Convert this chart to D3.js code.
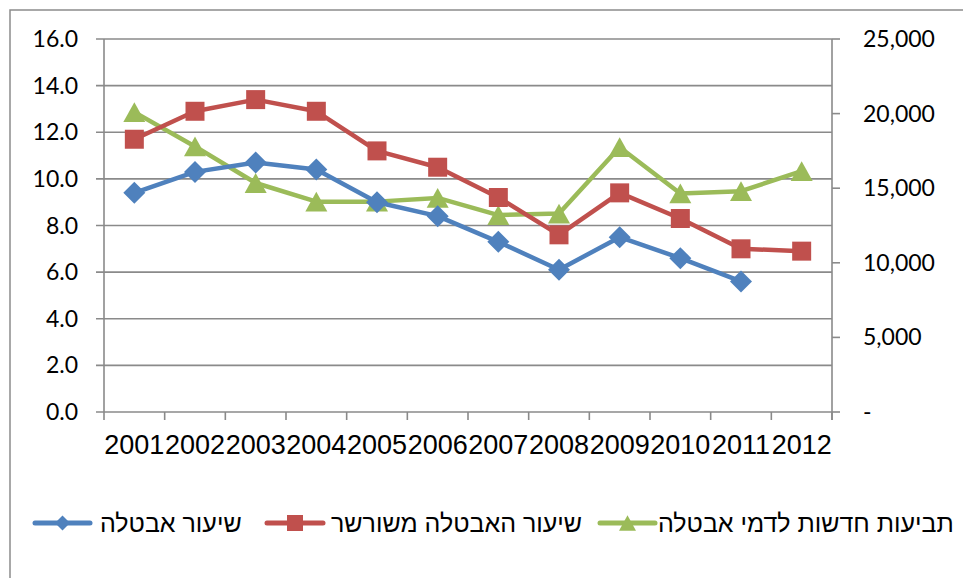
<!DOCTYPE html>
<html><head><meta charset="utf-8">
<script src="https://cdn.jsdelivr.net/npm/d3@7"></script>
<style>body{margin:0;background:#fff}svg{display:block}</style>
</head><body>
<svg id="c" width="963" height="578"></svg>
<script>
const years = ["2001","2002","2003","2004","2005","2006","2007","2008","2009","2010","2011","2012"];
const unemploymentRate = [9.4,10.3,10.7,10.4,9.0,8.4,7.3,6.1,7.5,6.6,5.6,null];
const rootedUnemployment = [11.7,12.9,13.4,12.9,11.2,10.5,9.2,7.6,9.4,8.3,7.0,6.9];
const newClaims = [20100,17800,15350,14100,14100,14350,13200,13300,17750,14650,14800,16150];
const leftTicks = [0,2,4,6,8,10,12,14,16];
const rightTicks = [0,5000,10000,15000,20000,25000];
const seriesNames = ["שיעור אבטלה","שיעור האבטלה משורשר","תביעות חדשות לדמי אבטלה"];
const colors = ["#4F81BD","#C0504D","#9BBB59"];

const svg = d3.select("#c");
const L=104, R=832, T=39, B=412;
const gridCol="#8a8a8a";

// frame
svg.append("path").attr("d","M10,578V10H963").attr("fill","none").attr("stroke","#8c8c8c").attr("stroke-width",1.5);

const x = d3.scaleBand().domain(years).range([L,R]).padding(0);
const yL = d3.scaleLinear().domain([0,16]).range([B,T]);
const yR = d3.scaleLinear().domain([0,25000]).range([B,T]);

// gridlines
svg.append("g").selectAll("line").data(leftTicks).join("line")
  .attr("x1",L-8).attr("x2",R).attr("y1",d=>yL(d)).attr("y2",d=>yL(d))
  .attr("stroke",gridCol).attr("stroke-width",1.6);
svg.append("line").attr("x1",L).attr("x2",L).attr("y1",T).attr("y2",B).attr("stroke",gridCol).attr("stroke-width",1.6);
svg.append("line").attr("x1",R).attr("x2",R).attr("y1",T).attr("y2",B+8).attr("stroke",gridCol).attr("stroke-width",1.6);
svg.append("g").selectAll("line").data(rightTicks).join("line")
  .attr("x1",R).attr("x2",R+8).attr("y1",d=>yR(d)).attr("y2",d=>yR(d))
  .attr("stroke",gridCol).attr("stroke-width",1.6);
const bounds = years.map(d=>x(d)).concat([R]);
svg.append("g").selectAll("line").data(bounds).join("line")
  .attr("x1",d=>d).attr("x2",d=>d).attr("y1",B).attr("y2",B+8)
  .attr("stroke",gridCol).attr("stroke-width",1.6);

// labels
const numFont = "Lato, 'Open Sans', sans-serif";
svg.append("g").selectAll("text").data(leftTicks).join("text")
  .attr("x",78).attr("y",d=>yL(d)+8).attr("text-anchor","end")
  .attr("font-family",numFont).attr("font-size",23).attr("fill","#000")
  .text(d=>d3.format(".1f")(d));
svg.append("g").selectAll("text").data(rightTicks).join("text")
  .attr("x",863).attr("y",d=>yR(d)+8).attr("text-anchor","start")
  .attr("font-family",numFont).attr("font-size",23).attr("fill","#000")
  .text(d=>d===0?"-":d3.format(",")(d));
svg.append("g").selectAll("text").data(years).join("text")
  .attr("x",d=>x(d)+x.bandwidth()/2).attr("y",454).attr("text-anchor","middle")
  .attr("font-family","'Liberation Sans', Arial, sans-serif").attr("font-size",27).attr("fill","#000")
  .text(d=>d);

const cx = d=>x(d)+x.bandwidth()/2;
function drawSeries(vals, scale, color, sym, size){
  const pts = years.map((y,i)=>({y, v: vals[i]})).filter(p=>p.v!=null);
  const line = d3.line().x(p=>cx(p.y)).y(p=>scale(p.v));
  svg.append("path").datum(pts).attr("d",line).attr("fill","none")
    .attr("stroke",color).attr("stroke-width",4.5).attr("stroke-linejoin","round");
  svg.append("g").selectAll("path").data(pts).join("path")
    .attr("transform",p=>`translate(${cx(p.y)},${scale(p.v)})`)
    .attr("d",d3.symbol().type(sym).size(size)).attr("fill",color);
}
const diamond = {draw(ctx,size){const r=Math.sqrt(size)/2;ctx.moveTo(0,-r);ctx.lineTo(r,0);ctx.lineTo(0,r);ctx.lineTo(-r,0);ctx.closePath();}};
const triangle = {draw(ctx,size){const w=Math.sqrt(size);const h=w*0.9;ctx.moveTo(0,-h/2);ctx.lineTo(w/2,h/2);ctx.lineTo(-w/2,h/2);ctx.closePath();}};
drawSeries(newClaims, yR, colors[2], triangle, 22*22);
drawSeries(rootedUnemployment, yL, colors[1], d3.symbolSquare, 19*19);
drawSeries(unemploymentRate, yL, colors[0], diamond, 22*22);

// legend
const legY = 523;
const legendItems = [
  {name:seriesNames[0], color:colors[0], sym:diamond, size:15*15, x1:35, x2:90, tx:100},
  {name:seriesNames[1], color:colors[1], sym:d3.symbolSquare, size:16*16, x1:267, x2:323, tx:331},
  {name:seriesNames[2], color:colors[2], sym:triangle, size:17*17, x1:600, x2:655, tx:658}
];
legendItems.forEach(it=>{
  svg.append("line").attr("x1",it.x1).attr("x2",it.x2).attr("y1",legY).attr("y2",legY)
    .attr("stroke",it.color).attr("stroke-width",5).attr("stroke-linecap","round");
  svg.append("path").attr("transform",`translate(${(it.x1+it.x2)/2},${legY})`)
    .attr("d",d3.symbol().type(it.sym).size(it.size)).attr("fill",it.color);
  svg.append("text").attr("x",it.tx).attr("y",legY+9).attr("text-anchor","start")
    .attr("font-family","'Liberation Sans', Arial, 'DejaVu Sans', sans-serif").attr("font-size",25).attr("fill","#000")
    .text(it.name);
});
</script>
</body></html>
